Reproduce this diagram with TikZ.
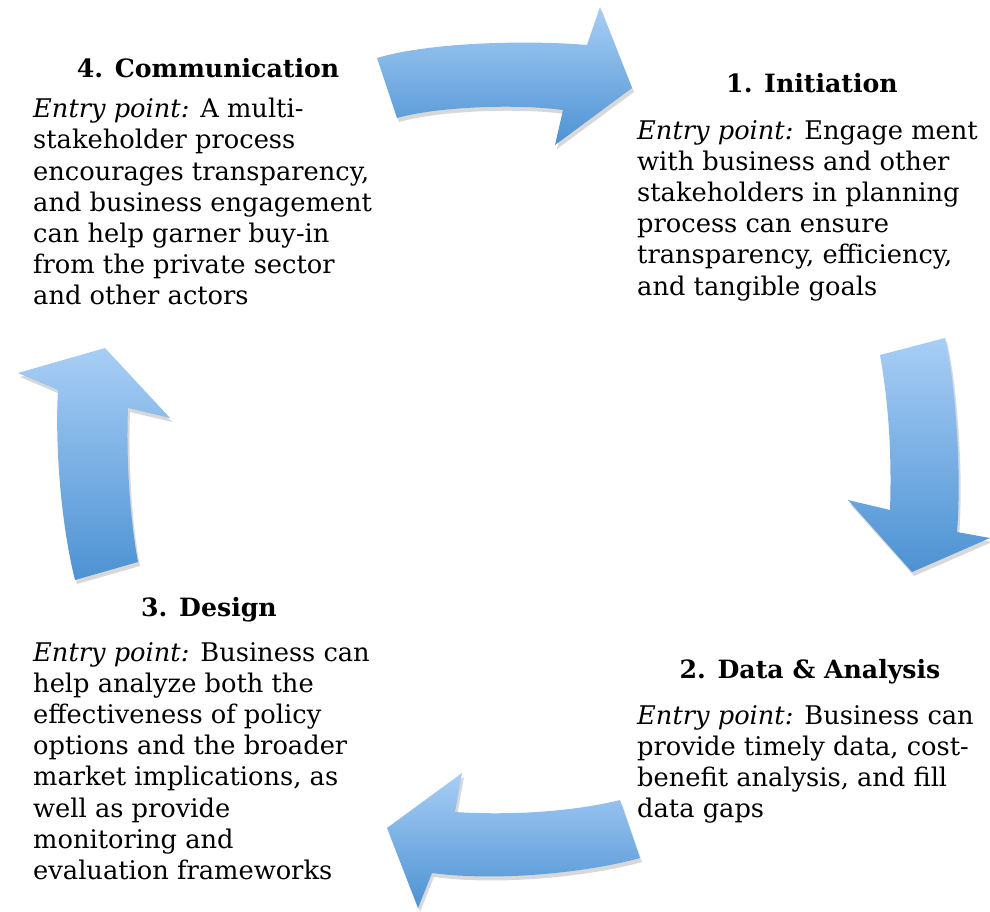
\documentclass[tikz,border=0pt]{standalone}
\usepackage{fontspec}
\setmainfont{DejaVu Serif}
\usetikzlibrary{shadows}
\definecolor{arrowtop}{HTML}{A8CEF5}
\definecolor{arrowbot}{HTML}{4D92D3}
\tikzset{
  cyclearrow/.style={top color=arrowtop, bottom color=arrowbot, draw=none,
    drop shadow={opacity=0.3, shadow xshift=2pt, shadow yshift=-4pt}},
  heading/.style={anchor=base, inner sep=0pt, font=\fontsize{25.2}{31}\selectfont\bfseries},
  body/.style={anchor=north west, inner sep=0pt, align=left, font=\fontsize{25.7}{31.2}\selectfont}
}
\begin{document}
\begin{tikzpicture}[x=1pt,y=-1pt]
\useasboundingbox[fill=white] (0,0) rectangle (990,911);
% arrows
\path[cyclearrow] (377,58) .. controls (430,42) and (530,40) .. (587,45) -- (600,7) -- (632,88) -- (555,145) -- (563,110) .. controls (520,104) and (440,106) .. (397,118) -- cycle;
\path[cyclearrow] (880,355) -- (945,338) .. controls (955,380) and (962,470) .. (957,532) -- (990,538) -- (912,572) -- (848,500) -- (890,510) .. controls (892,450) and (888,400) .. (880,355) -- cycle;
\path[cyclearrow] (620,800) .. controls (580,810) and (520,816) .. (455,812) -- (462,773) -- (387,828) -- (418,908) -- (432,873) .. controls (500,882) and (590,872) .. (640,858) -- cycle;
\path[cyclearrow] (75,580) .. controls (60,520) and (55,440) .. (58,390) -- (18,373) -- (105,348) -- (170,418) -- (128,408) .. controls (126,460) and (130,520) .. (138,562) -- cycle;
% headings
\node[heading] (h4) at (208,77) {4. Communication};
\node[heading] (h1) at (812,92) {1. Initiation};
\node[heading] (h3) at (209,616) {3. Design};
\node[heading] (h2) at (810,678) {2. Data \& Analysis};
% bodies
\node[body] (b4) at (33,98) {\textit{Entry point:} A multi-\\stakeholder process\\encourages transparency,\\and business engagement\\can help garner buy-in\\from the private sector\\and other actors};
\node[body] (b1) at (637,120) {\textit{Entry point:} Engage ment\\with business and other\\stakeholders in planning\\process can ensure\\transparency, efficiency,\\and tangible goals};
\node[body] (b3) at (33,642) {\textit{Entry point:} Business can\\help analyze both the\\effectiveness of policy\\options and the broader\\market implications, as\\well as provide\\monitoring and\\evaluation frameworks};
\node[body] (b2) at (637,705) {\textit{Entry point:} Business can\\provide timely data, cost-\\benefit analysis, and fill\\data gaps};
\end{tikzpicture}
\end{document}
